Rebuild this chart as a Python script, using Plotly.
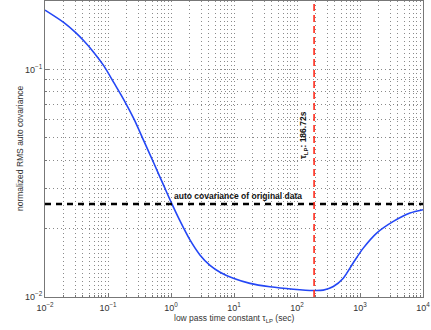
import numpy as np
import plotly.graph_objects as go

# curve data
tau = [0.01, 0.02, 0.0307, 0.0416, 0.060, 0.0865, 0.1245, 0.1795, 0.259, 0.372,
       0.537, 0.774, 1.038, 1.39, 2.00, 2.88, 4.16, 6.0, 9.75, 17.9,
       37.2, 87.3, 181.6, 261, 377, 543, 783, 1127, 1841, 3381, 6223, 10000]
rms = [0.1824, 0.1607, 0.1452, 0.1334, 0.1186, 0.1035, 0.0873, 0.0734, 0.0605, 0.0484,
       0.0386, 0.0307, 0.0256, 0.0216, 0.01782, 0.01531, 0.01377, 0.01285, 0.01208, 0.01148,
       0.01109, 0.01082, 0.01068, 0.01072, 0.01112, 0.01210, 0.01415, 0.01640, 0.0191, 0.0215,
       0.0234, 0.0242]

orig_cov = 0.0256
tau_lp = 186.72
x_range = [0.01, 10000]
y_range = [0.01, 0.2]

x_ticks = [0.01, 0.1, 1, 10, 100, 1000, 10000]
x_ticktext = ["10<sup>−2</sup>", "10<sup>−1</sup>", "10<sup>0</sup>", "10<sup>1</sup>",
              "10<sup>2</sup>", "10<sup>3</sup>", "10<sup>4</sup>"]
y_ticks = [0.01, 0.1]
y_ticktext = ["10<sup>−2</sup>", "10<sup>−1</sup>"]

x_minor = [m * 10.0 ** e for e in range(-2, 4) for m in range(2, 10)]
y_minor = [m * 10.0 ** e for e in range(-2, 0) for m in range(2, 10)]

FONT = "Liberation Sans, Arial, sans-serif"
GRIDC = "#8a8a8a"
GRIDD = "1px,3px"

fig = go.Figure()
fig.add_trace(go.Scatter(x=tau, y=rms, mode="lines",
                         line=dict(color="#2447f5", width=1.6, shape="spline", smoothing=0.8),
                         showlegend=False))
fig.add_trace(go.Scatter(x=x_range, y=[orig_cov, orig_cov], mode="lines",
                         line=dict(color="black", width=2.5, dash="6px,5px"), showlegend=False))
fig.add_trace(go.Scatter(x=[tau_lp, tau_lp], y=y_range, mode="lines",
                         line=dict(color="#ff2a1a", width=1.6, dash="7px,4px"), showlegend=False))

axfont = dict(family=FONT, size=9, color="#333333")
common = dict(type="log", tickmode="array", ticks="inside", ticklen=4, tickcolor="#777777",
              showline=True, linecolor="#777777", linewidth=1, mirror=True,
              showgrid=True, gridcolor=GRIDC, griddash=GRIDD, gridwidth=1,
              tickfont=axfont, zeroline=False)

fig.update_xaxes(range=[np.log10(x_range[0]), np.log10(x_range[1])],
                 tickvals=x_ticks, ticktext=x_ticktext, ticklabelstandoff=2,
                 minor=dict(tickmode="array", tickvals=x_minor, showgrid=True,
                            gridcolor=GRIDC, griddash=GRIDD, gridwidth=1,
                            ticks="inside", ticklen=2, tickcolor="#777777"),
                 **common)
fig.update_yaxes(range=[np.log10(y_range[0]), np.log10(y_range[1])],
                 tickvals=y_ticks, ticktext=y_ticktext,
                 minor=dict(tickmode="array", tickvals=y_minor, showgrid=True,
                            gridcolor=GRIDC, griddash=GRIDD, gridwidth=1,
                            ticks="inside", ticklen=2, tickcolor="#777777"),
                 **common)

# axis titles
fig.add_annotation(x=0.5, y=-0.072, xref="paper", yref="paper",
                   text="low pass time constant τ<sub>LP</sub> (sec)", showarrow=False,
                   xanchor="center", yanchor="middle",
                   font=dict(family=FONT, size=8.5, color="#333333"))
fig.add_annotation(x=-0.066, y=0.5, xref="paper", yref="paper",
                   text="normalized RMS auto covariance", showarrow=False, textangle=-90,
                   xanchor="center", yanchor="middle",
                   font=dict(family=FONT, size=8.5, color="#333333"))

fig.add_annotation(x=np.log10(1.03), y=np.log10(orig_cov), xref="x", yref="y",
                   text="<b>auto covariance of original data</b>", showarrow=False,
                   xanchor="left", yanchor="bottom", yshift=1,
                   font=dict(family=FONT, size=8.5, color="#111111"))
fig.add_annotation(x=np.log10(124), y=np.log10(0.0515), xref="x", yref="y",
                   text="<b>τ<sub>LP</sub>: 186.72s</b>", showarrow=False, textangle=-90,
                   font=dict(family=FONT, size=8.5, color="#111111"))

fig.update_layout(width=431, height=330, margin=dict(l=45, r=8, t=1, b=33),
                  plot_bgcolor="white", paper_bgcolor="white")
fig.write_html("out.html")
